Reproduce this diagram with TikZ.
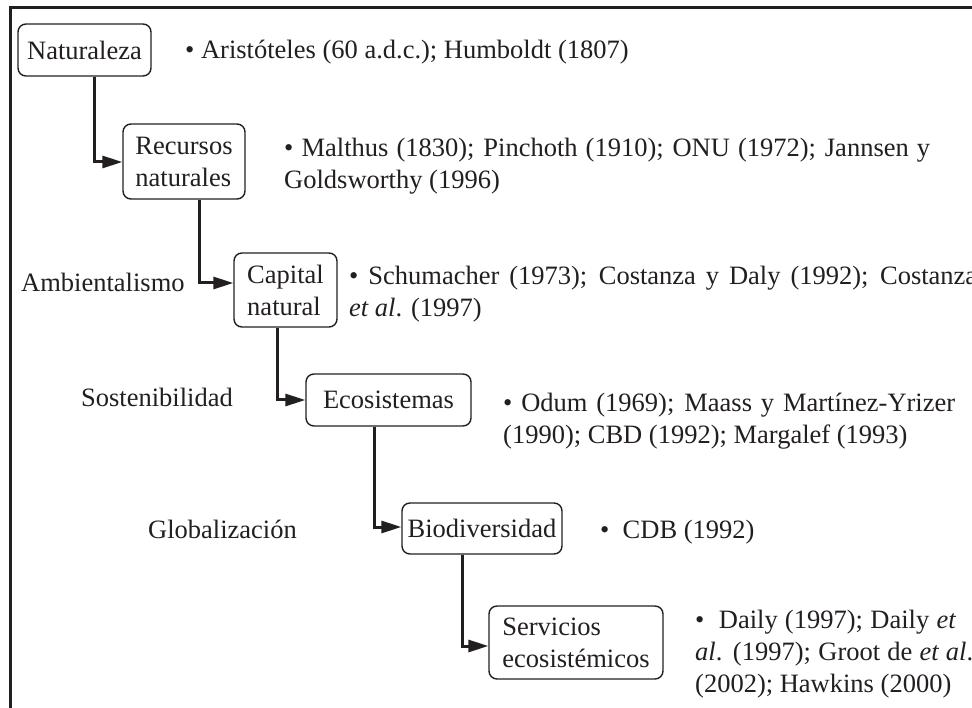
\documentclass[tikz,border=0pt]{standalone}
\usepackage{fontspec}
\setmainfont{Liberation Serif}
\usetikzlibrary{arrows.meta}
\definecolor{txt}{RGB}{35,31,32}
\newcommand{\jline}[2]{\makebox[#1][s]{#2}}
\begin{document}
\begin{tikzpicture}[x={(1pt,0pt)},y={(0pt,-1pt)},
  every node/.style={font=\fontsize{26.5}{32}\selectfont, text=txt, inner sep=0pt},
  concept/.style={draw=txt, line width=1.4pt, rounded corners=8pt, align=left},
  refs/.style={anchor=base west, align=left},
  lbl/.style={anchor=base west},
  conn/.style={draw=txt, line width=3pt, -{Triangle[length=20pt,width=12pt]}}]
\useasboundingbox (0,0) rectangle (972,708);
\fill[white] (0,0) rectangle (972,708);
% frame
\draw[txt, line width=3pt] (10,720) -- (10,8) -- (985,8);
% concept boxes
\node[concept, minimum width=133pt, minimum height=52pt] (nat) at (84.5,50) {Naturaleza};
\node[concept, minimum width=122pt, minimum height=75pt] (rec) at (184,161.5) {Recursos\\naturales};
\node[concept, minimum width=103pt, minimum height=74pt] (cap) at (285.5,290) {Capital\\natural};
\node[concept, minimum width=165pt, minimum height=52pt] (eco) at (388.5,400) {Ecosistemas};
\node[concept, minimum width=160pt, minimum height=51pt] (bio) at (482,528.5) {Biodiversidad};
\node[concept, minimum width=174pt, minimum height=73pt] (ser) at (576,642.5) {Servicios\\ecosist\'emicos};
% connectors
\draw[conn] (nat.south -| 94,0) |- (rec.west |- 0,162);
\draw[conn] (rec.south -| 199,0) |- (cap.west |- 0,283);
\draw[conn] (cap.south -| 277,0) |- (eco.west |- 0,400);
\draw[conn] (eco.south -| 374,0) |- (bio.west |- 0,527);
\draw[conn] (bio.south -| 462,0) |- (ser.west |- 0,646);
% side labels
\node[lbl] (amb) at (21,292) {Ambientalismo};
\node[lbl] (sos) at (81,407) {Sostenibilidad};
\node[lbl] (glo) at (148,538) {Globalizaci\'on};
% references
\node[refs] (r1) at (185,59) {• Aristóteles (60 a.d.c.); Humboldt (1807)};
\node[refs] (r2) at (284,189) {\jline{646pt}{• Malthus (1830); Pinchoth (1910); ONU (1972); Jannsen y}\\Goldsworthy (1996)};
\node[refs] (r3) at (349,317) {\jline{628pt}{• Schumacher (1973); Costanza y Daly (1992); Costanza}\\\textit{et al}. (1997)};
\node[refs] (r4) at (503,443) {\jline{452pt}{• Odum (1969); Maass y Martínez-Yrizer}\\(1990); CBD (1992); Margalef (1993)};
\node[refs] (r5) at (600,538) {•\ \ CDB (1992)};
\node[refs] (r6) at (695,692) {\jline{261pt}{•\ \ Daily (1997); Daily \textit{et}}\\\jline{278pt}{\textit{al}. (1997); Groot de \textit{et al}.}\\(2002); Hawkins (2000)};
\end{tikzpicture}
\end{document}
